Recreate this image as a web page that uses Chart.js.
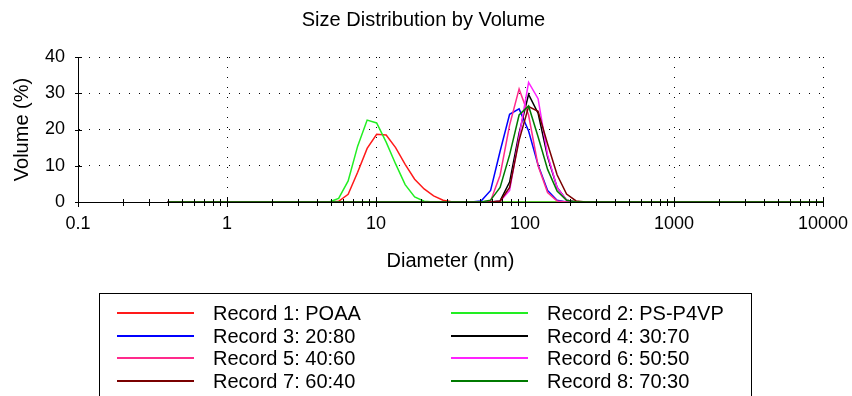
<!DOCTYPE html>
<html><head><meta charset="utf-8">
<script src="https://cdn.jsdelivr.net/npm/chart.js@4.4.0/dist/chart.umd.min.js"></script>
<style>
html,body{margin:0;padding:0;background:#fff;}
#wrap{position:relative;width:852px;height:396px;overflow:hidden;background:#fff;}
#c{position:absolute;left:0;top:0;}
#legend{position:absolute;left:99px;top:293px;width:653px;height:130px;border:1px solid #000;box-sizing:border-box;font-family:"Liberation Sans",Arial,sans-serif;color:#000;}
.ln{position:absolute;height:0;}
.tx{position:absolute;font-size:20px;line-height:22px;white-space:nowrap;}
</style></head>
<body><div id="wrap"><canvas id="c" width="852" height="396"></canvas><div id="legend"></div></div>
<script>
// Diameter bins (nm)
const sizes = [0.4, 0.4632, 0.5365, 0.6213, 0.7195, 0.8332, 0.9649, 1.117, 1.294, 1.499,
 1.736, 2.010, 2.328, 2.696, 3.122, 3.615, 4.187, 4.849, 5.615, 6.503,
 7.531, 8.721, 10.10, 11.70, 13.54, 15.69, 18.17, 21.04, 24.36, 28.21,
 32.67, 37.84, 43.82, 50.75, 58.77, 68.06, 78.82, 91.28, 105.7, 122.4,
 141.8, 164.2, 190.1, 220.2, 255.0, 295.3, 342.0, 396.1, 458.7, 531.2,
 615.1, 712.4, 825.0, 955.4, 1106, 1281, 1484, 1718, 1990, 2305,
 2669, 3091, 3580, 4145, 4801, 5560, 6439, 7456, 8635, 10000];

const seriesLabels = ['Record 1: POAA','Record 2: PS-P4VP','Record 3: 20:80','Record 4: 30:70',
 'Record 5: 40:60','Record 6: 50:50','Record 7: 60:40','Record 8: 70:30'];

const rec1 = [0,0,0,0,0,0,0,0,0,0, 0,0,0,0,0,0,0,0,0.2,2.1,
 8.2,14.8,18.7,18.5,15.0,10.4,6.3,3.6,1.7,0.5, 0,0,0,0,0,0,0,0,0,0,
 0,0,0,0,0,0,0,0,0,0, 0,0,0,0,0,0,0,0,0,0, 0,0,0,0,0,0,0,0,0,0];
const rec2 = [0,0,0,0,0,0,0,0,0,0, 0,0,0,0,0,0,0,0,1.0,5.8,
 15.4,22.6,21.8,16.5,10.5,4.8,1.4,0.2,0,0, 0,0,0,0,0,0,0,0,0,0,
 0,0,0,0,0,0,0,0,0,0, 0,0,0,0,0,0,0,0,0,0, 0,0,0,0,0,0,0,0,0,0];
const rec3 = [0,0,0,0,0,0,0,0,0,0, 0,0,0,0,0,0,0,0,0,0,
 0,0,0,0,0,0,0,0,0,0, 0,0,0,0.3,3.2,14.0,24.2,25.7,19.6,10.2,
 3.2,0.5,0,0,0,0,0,0,0,0, 0,0,0,0,0,0,0,0,0,0, 0,0,0,0,0,0,0,0,0,0];
const rec4 = [0,0,0,0,0,0,0,0,0,0, 0,0,0,0,0,0,0,0,0,0,
 0,0,0,0,0,0,0,0,0,0, 0,0,0,0,0,0.3,5.5,19.0,29.7,24.5,
 12.5,4.0,0.5,0,0,0,0,0,0,0, 0,0,0,0,0,0,0,0,0,0, 0,0,0,0,0,0,0,0,0,0];
const rec5 = [0,0,0,0,0,0,0,0,0,0, 0,0,0,0,0,0,0,0,0,0,
 0,0,0,0,0,0,0,0,0,0, 0,0,0,0,0.3,7.4,21.2,31.2,24.0,10.0,
 2.6,0.3,0,0,0,0,0,0,0,0, 0,0,0,0,0,0,0,0,0,0, 0,0,0,0,0,0,0,0,0,0];
const rec6 = [0,0,0,0,0,0,0,0,0,0, 0,0,0,0,0,0,0,0,0,0,
 0,0,0,0,0,0,0,0,0,0, 0,0,0,0,0,0.2,3.2,18.0,33.0,28.5,
 13.0,4.0,0.5,0,0,0,0,0,0,0, 0,0,0,0,0,0,0,0,0,0, 0,0,0,0,0,0,0,0,0,0];
const rec7 = [0,0,0,0,0,0,0,0,0,0, 0,0,0,0,0,0,0,0,0,0,
 0,0,0,0,0,0,0,0,0,0, 0,0,0,0,0,0.2,4.0,17.0,26.3,25.0,
 16.0,7.5,2.2,0.3,0,0,0,0,0,0, 0,0,0,0,0,0,0,0,0,0, 0,0,0,0,0,0,0,0,0,0];
const rec8 = [0,0,0,0,0,0,0,0,0,0, 0,0,0,0,0,0,0,0,0,0,
 0,0,0,0,0,0,0,0,0,0, 0,0,0,0,0.5,4.0,13.0,24.0,26.5,18.0,
 9.0,3.0,0.5,0,0,0,0,0,0,0, 0,0,0,0,0,0,0,0,0,0, 0,0,0,0,0,0,0,0,0,0];

const xTickLabels = ['0.1','1','10','100','1000','10000'];
const yTickLabels = ['0','10','20','30','40'];

const series = [rec1, rec2, rec3, rec4, rec5, rec6, rec7, rec8];
const colors = ['#ff1a1a','#22ee22','#0000ff','#000000','#ff2a8c','#ff22ff','#7a0000','#007a00'];
const FONT = '"Liberation Sans", Arial, sans-serif';

const xTickValues = xTickLabels.map(Number);
const yTickValues = yTickLabels.map(Number);
function isDecade(v){ return xTickValues.some(d => Math.abs(d - v) < 1e-9 * d); }

const datasets = series.map((d, i) => ({
  label: seriesLabels[i],
  data: sizes.map((s, j) => ({x: s, y: d[j]})),
  borderColor: colors[i],
  backgroundColor: colors[i],
  borderWidth: 1.5,
  pointRadius: 0,
  tension: 0,
  fill: false,
  order: series.length - 1 - i
}));

const crossTicks = {
  id: 'crossTicks',
  afterDraw(chart) {
    const {ctx, scales: {x, y}} = chart;
    const ax = Math.round(x.getPixelForValue(0.1));
    const ay = Math.round(y.getPixelForValue(0));
    ctx.save();
    ctx.strokeStyle = '#000';
    ctx.lineWidth = 1;
    ctx.beginPath();
    x.ticks.forEach(t => {
      const px = Math.round(x.getPixelForValue(t.value)) + 0.5;
      const L = isDecade(t.value) ? 4 : 3;
      ctx.moveTo(px, ay - L); ctx.lineTo(px, ay + L + 1);
    });
    y.ticks.forEach(t => {
      const py = Math.round(y.getPixelForValue(t.value)) + 0.5;
      ctx.moveTo(ax - 3, py); ctx.lineTo(ax + 4, py);
    });
    ctx.stroke();
    ctx.restore();
  }
};

const CLEAR = 'rgba(0,0,0,0)';

new Chart(document.getElementById('c'), {
  type: 'line',
  data: { datasets },
  plugins: [crossTicks],
  options: {
    responsive: false,
    animation: false,
    devicePixelRatio: 1,
    layout: { padding: { left: 24, right: 29, top: 0, bottom: 122 } },
    plugins: {
      legend: { display: false },
      tooltip: { enabled: false },
      title: {
        display: true,
        text: 'Size Distribution by Volume',
        color: '#000',
        font: { family: FONT, size: 20, weight: 'normal' },
        padding: { top: 8, bottom: 25 }
      }
    },
    scales: {
      x: {
        type: 'logarithmic',
        min: 0.1, max: 10000,
        afterBuildTicks(scale) {
          const t = [];
          for (let e = -1; e <= 3; e++) {
            for (let m = 1; m <= 9; m++) t.push({value: +(m * Math.pow(10, e)).toPrecision(6)});
          }
          t.push({value: 10000});
          scale.ticks = t;
        },
        afterFit(scale) { scale.height = 72; },
        grid: {
          color: ctx => (ctx.tick && isDecade(ctx.tick.value) && ctx.tick.value > 0.1) ? '#000' : CLEAR,
          lineWidth: 1,
          drawTicks: true,
          tickLength: 11,
          tickColor: CLEAR
        },
        border: { display: true, color: '#000', width: 1, dash: [1, 9] },
        ticks: {
          autoSkip: false, maxRotation: 0, minRotation: 0,
          color: '#000', padding: 0,
          font: { family: FONT, size: 18 },
          callback: (v) => { const k = xTickValues.findIndex(d => Math.abs(d - v) < 1e-9 * d); return k >= 0 ? xTickLabels[k] : ''; }
        },
        title: {
          display: true, text: 'Diameter (nm)', color: '#000',
          font: { family: FONT, size: 20 }, padding: { top: 0, bottom: 1 }
        }
      },
      y: {
        min: 0, max: 40,
        afterBuildTicks(scale) {
          const t = [];
          for (let v = 0; v <= 40; v += 5) t.push({value: v});
          scale.ticks = t;
        },
        afterFit(scale) { scale.width = 54; },
        grid: {
          color: ctx => (ctx.tick && ctx.tick.value > 0 && yTickValues.includes(ctx.tick.value)) ? '#000' : CLEAR,
          lineWidth: 1,
          drawTicks: true,
          tickLength: 13,
          tickColor: CLEAR
        },
        border: { display: true, color: '#000', width: 1, dash: [1, 9] },
        ticks: {
          color: '#000', padding: 0,
          font: { family: FONT, size: 18 },
          callback: (v) => { const k = yTickValues.indexOf(v); return k >= 0 ? yTickLabels[k] : ''; }
        },
        title: {
          display: true, text: 'Volume (%)', color: '#000',
          font: { family: FONT, size: 20 }, padding: { top: -14, bottom: 0 }
        }
      }
    }
  }
});

// HTML legend built from the same series labels / colours
const lg = document.getElementById('legend');
const boxL = 100, boxT = 294;
const lineX = [117, 451], lineW = 77, textX = [213, 547];
seriesLabels.forEach((lab, i) => {
  const col = i % 2, row = Math.floor(i / 2);
  const cy = 313 + 22.7 * row;
  const ln = document.createElement('div');
  ln.className = 'ln';
  ln.style.left = (lineX[col] - boxL) + 'px';
  ln.style.width = lineW + 'px';
  ln.style.top = (cy - boxT - 1) + 'px';
  ln.style.borderTop = '2px solid ' + colors[i];
  lg.appendChild(ln);
  const tx = document.createElement('div');
  tx.className = 'tx';
  tx.style.left = (textX[col] - boxL) + 'px';
  tx.style.top = (cy - boxT - 11) + 'px';
  tx.textContent = lab;
  lg.appendChild(tx);
});
</script>
</body></html>
